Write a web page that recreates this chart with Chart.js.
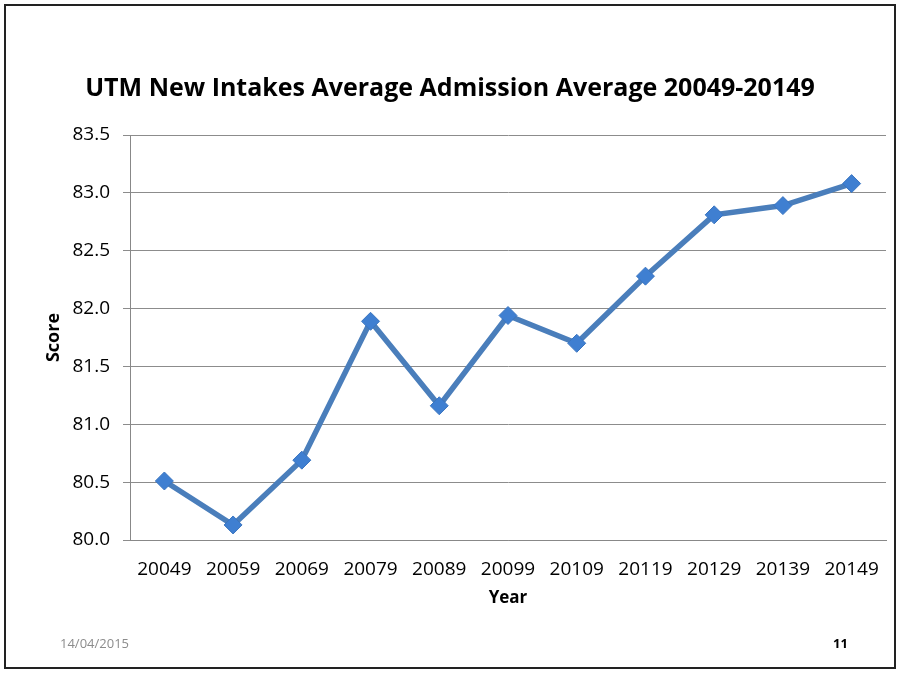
<!DOCTYPE html>
<html>
<head>
<meta charset="utf-8">
<script src="https://cdn.jsdelivr.net/npm/chart.js@4"></script>
<style>
  body { margin: 0; background: #fff; }
  #frame { position: absolute; left: 4px; top: 4px; width: 888px; height: 661px; border: 2px solid #222; }
  #wrap { position: absolute; left: 0; top: 0; width: 900px; height: 673px; }
  .foot { position: absolute; font-family: "Open Sans", sans-serif; line-height: 1; }
</style>
</head>
<body>
<div id="frame"></div>
<div id="wrap"><canvas id="c" width="900" height="673"></canvas></div>
<div class="foot" style="left:60px; top:637px; font-size:13px; color:#8c8c8c;">14/04/2015</div>
<div class="foot" style="left:833px; top:637px; font-size:13px; font-weight:bold; color:#000;">11</div>
<script>
const years = ["20049", "20059", "20069", "20079", "20089", "20099", "20109", "20119", "20129", "20139", "20149"];
const scores = [80.51, 80.13, 80.69, 81.89, 81.16, 81.94, 81.70, 82.28, 82.81, 82.89, 83.08];
const yTicks = [80.0, 80.5, 81.0, 81.5, 82.0, 82.5, 83.0, 83.5];

const fontName = "'Open Sans', sans-serif";

const config = {
  type: "line",
  data: {
    labels: years,
    datasets: [
      {
        label: "Score",
        data: scores,
        borderColor: "#4a7ebb",
        borderWidth: 5.5,
        backgroundColor: "#3f7fd1",
        pointStyle: "rectRot",
        pointRadius: 9,
        pointBorderColor: "#3a75c0",
        pointBorderWidth: 1,
        tension: 0,
      },
    ],
  },
  options: {
    responsive: false,
    animation: false,
    layout: { padding: { left: 14, right: 14, top: 0, bottom: 66 } },
    plugins: {
      legend: { display: false },
      tooltip: { enabled: false },
      title: {
        display: true,
        text: "UTM New Intakes Average Admission Average 20049-20149",
        color: "#000",
        font: { family: fontName, size: 25, weight: "bold" },
        padding: { top: 74, bottom: 31 },
      },
    },
    scales: {
      x: {
        offset: true,
        grid: { display: false },
        border: { color: "#888", width: 1 },
        ticks: { color: "#000", font: { family: fontName, size: 19, lineHeight: 1 }, padding: 12, maxRotation: 0 },
        title: { display: true, text: "Year", color: "#000", font: { family: fontName, size: 17, weight: "bold", lineHeight: 1 }, padding: 0 },
        afterFit: (scale) => { scale.height = 67; },
      },
      y: {
        min: 80,
        max: 83.5,
        afterBuildTicks: (scale) => { scale.ticks = yTicks.map((v) => ({ value: v })); },
        grid: { color: "#8c8c8c", tickLength: 7, tickColor: "#8c8c8c" },
        border: { color: "#888", width: 1 },
        ticks: { color: "#000", font: { family: fontName, size: 19 }, padding: 13, callback: (v) => Number(v).toFixed(1) },
        title: { display: true, text: "Score", color: "#000", font: { family: fontName, size: 18, weight: "bold", lineHeight: 1 }, padding: 31 },
        afterFit: (scale) => { scale.width = 116; },
      },
    },
  },
};

new Chart(document.getElementById("c"), config);
</script>
</body>
</html>
